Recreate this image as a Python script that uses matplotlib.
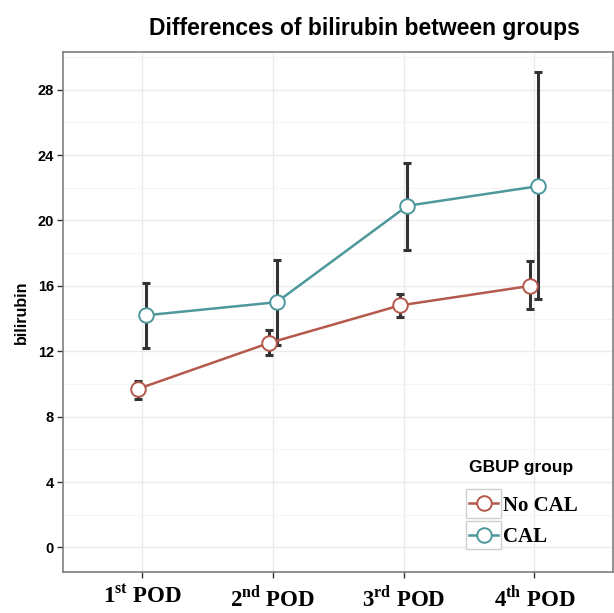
import numpy as np
import matplotlib
matplotlib.use("Agg")
import matplotlib.pyplot as plt
from matplotlib.legend_handler import HandlerLine2D
from matplotlib.patches import Rectangle

plt.rcParams['font.family'] = ['Liberation Sans', 'DejaVu Sans']
plt.rcParams['mathtext.fontset'] = 'custom'
plt.rcParams['mathtext.rm'] = 'Liberation Serif:bold'
plt.rcParams['mathtext.bf'] = 'Liberation Serif:bold'

days = ['1$^{\\mathbf{st}}$ POD', '2$^{\\mathbf{nd}}$ POD', '3$^{\\mathbf{rd}}$ POD', '4$^{\\mathbf{th}}$ POD']

no_cal_mean = [9.7, 12.5, 14.8, 16.0]
no_cal_low = [9.1, 11.8, 14.1, 14.6]
no_cal_high = [10.2, 13.3, 15.5, 17.5]

cal_mean = [14.2, 15.0, 20.9, 22.1]
cal_low = [12.2, 12.4, 18.2, 15.2]
cal_high = [16.2, 17.6, 23.5, 29.1]

red = '#B4594C'
teal = '#4E979B'


# legend key with a grey box round it, like ggplot
class BoxedLine(HandlerLine2D):
    def create_artists(self, legend, orig_handle, xdescent, ydescent,
                       width, height, fontsize, trans):
        arts = super().create_artists(legend, orig_handle, xdescent, ydescent,
                                      width, height, fontsize, trans)
        pad = 5
        box = Rectangle((-xdescent - 2, -ydescent - pad), width + 4, height + 2 * pad,
                        fc='white', ec='#d0d0d0', lw=1.0, transform=trans)
        return [box] + arts


fig = plt.figure(figsize=(6.14, 6.13), dpi=100)
ax = fig.add_axes([0.1034, 0.067, 0.8946, 0.848])

x = np.arange(1, 5)
dodge = 0.03

for xs, m, lo, hi, col, lab in [(x - dodge, no_cal_mean, no_cal_low, no_cal_high, red, 'No CAL'),
                                (x + dodge, cal_mean, cal_low, cal_high, teal, 'CAL')]:
    m = np.array(m)
    err = [m - np.array(lo), np.array(hi) - m]
    ax.errorbar(xs, m, yerr=err, fmt='none', ecolor='#333333', elinewidth=2.2,
                capsize=3, capthick=2.2, zorder=2)
    ax.plot(xs, m, color=col, lw=1.8, marker='o', ms=10.5, mfc='white',
            mec=col, mew=1.4, label=lab, zorder=3)

ax.set_xlim(0.4, 4.6)
ax.set_ylim(-1.5, 30.3)
ax.set_xticks(x)
ax.set_xticklabels(days, fontsize=16.5, fontfamily='Liberation Serif', fontweight='bold')
ax.set_yticks(np.arange(0, 29, 4))
ax.set_yticks(np.arange(2, 31, 4), minor=True)
for t in ax.get_yticklabels():
    t.set_fontweight('bold')
    t.set_fontsize(10.5)
ax.tick_params(axis='y', which='major', length=4, width=1, color='#333333', pad=3)
ax.tick_params(axis='y', which='minor', length=0)
ax.tick_params(axis='x', length=4, width=1, color='#333333', pad=5.5)

ax.grid(True, which='major', color='#ebebeb', lw=1.0)
ax.grid(True, which='minor', axis='y', color='#f4f4f4', lw=0.8)
ax.set_axisbelow(True)
for s in ax.spines.values():
    s.set_color('#7f7f7f')
    s.set_linewidth(1.2)

ax.set_ylabel('bilirubin', fontsize=11.5, fontweight='bold', labelpad=6)

leg = ax.legend(title='GBUP group', loc='upper left', frameon=False,
                prop={'family': 'Liberation Serif', 'weight': 'bold', 'size': 15},
                bbox_to_anchor=(0.747, 0.267), bbox_transform=fig.transFigure,
                handlelength=1.4, handletextpad=0.25, borderpad=0,
                labelspacing=0.55,
                handler_map={matplotlib.lines.Line2D: BoxedLine()})
leg.get_title().set_fontweight('bold')
leg.get_title().set_fontsize(12.5)
leg.get_title().set_fontfamily('Liberation Sans')
leg._legend_box.align = 'left'
leg._legend_box.sep = 15

fig.text(364 / 614, 1 - 28 / 613, 'Differences of bilirubin between groups',
         ha='center', va='center', fontsize=16.5, fontweight='bold')

plt.savefig('out.png', dpi=100)
